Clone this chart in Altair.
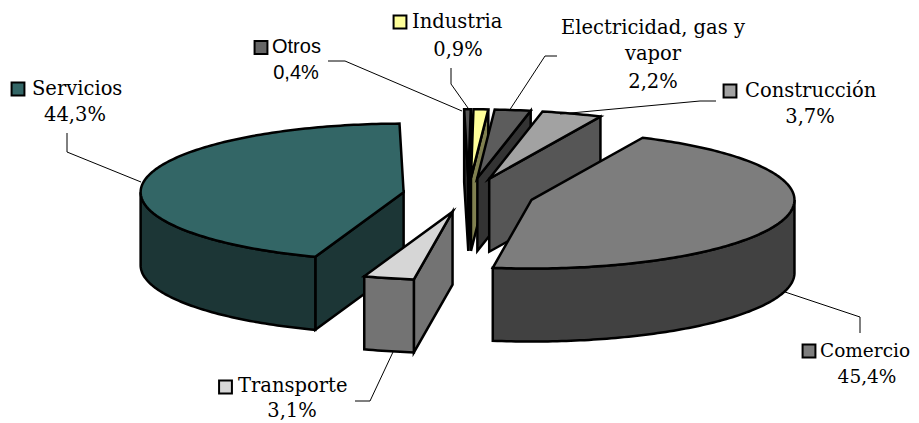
import math
import altair as alt
import pandas as pd

# --- chart values -------------------------------------------------------
categories = ["Construcción", "Comercio", "Transporte", "Servicios", "Otros", "Industria", "Electricidad, gas y vapor"]
shares = [3.7, 45.4, 3.1, 44.3, 0.4, 0.9, 2.2]
share_labels = ["3,7%", "45,4%", "3,1%", "44,3%", "0,4%", "0,9%", "2,2%"]

# --- styles -------------------------------------------------------------
top_colors = {"Construcción": "#a2a2a2", "Comercio": "#7d7d7d", "Transporte": "#d6d6d6", "Servicios": "#336666",
              "Otros": "#555555", "Industria": "#ffff99", "Electricidad, gas y vapor": "#5c5c5c"}
wall_colors = {"Construcción": "#565656", "Comercio": "#414141", "Transporte": "#737373", "Servicios": "#1c3636",
               "Otros": "#2a2a2a", "Industria": "#808050", "Electricidad, gas y vapor": "#333333"}
draw_order = ["Otros", "Industria", "Electricidad, gas y vapor", "Construcción", "Servicios", "Transporte", "Comercio"]

# --- projection of the pie on the page ----------------------------------
CX, CY, RX, RY, DEPTH, EXPLODE, ROT = 468.5, 195.0, 263.0, 68.6, 73.0, 0.25, 11.7
W, H = 903, 414

spans, a = {}, ROT
for c, s in zip(categories, shares):
    spans[c] = (a, a + s * 3.6)
    a += s * 3.6


def pt(center, deg):
    r = math.radians(deg)
    return (center[0] + RX * math.sin(r), center[1] - RY * math.cos(r))


def arc(center, a0, a1):
    n = max(2, int(abs(a1 - a0)) + 1)
    return [pt(center, a0 + (a1 - a0) * i / (n - 1)) for i in range(n)]


def down(points):
    return [(x, y + DEPTH) for x, y in points]


def faces(cat):
    a0, a1 = spans[cat]
    mid = math.radians((a0 + a1) / 2)
    c = (CX + EXPLODE * RX * math.sin(mid), CY - EXPLODE * RY * math.cos(mid))
    out = []
    if math.cos(math.radians(a0 - 90)) < 0:
        p = [c, pt(c, a0)]
        out.append((p + down(p)[::-1], wall_colors[cat]))
    if math.cos(math.radians(a1 + 90)) < 0:
        p = [c, pt(c, a1)]
        out.append((p + down(p)[::-1], wall_colors[cat]))
    lo, hi = max(a0, 90), min(a1, 270)
    if lo < hi:
        p = arc(c, lo, hi)
        out.append((p + down(p)[::-1], wall_colors[cat]))
    out.append(([c] + arc(c, a0, a1), top_colors[cat]))
    return out


X = alt.X("x:Q", scale=alt.Scale(domain=[8, 8 + W]), axis=None)
Y = alt.Y("y:Q", scale=alt.Scale(domain=[8 + H, 8]), axis=None)

layers = []
for cat in draw_order:
    for poly, col in faces(cat):
        closed = poly + poly[:2]
        df = pd.DataFrame({"x": [p[0] for p in closed], "y": [p[1] for p in closed], "i": range(len(closed))})
        layers.append(alt.Chart(df).mark_line(fill=col, stroke="black", strokeWidth=2.5,
                                              strokeJoin="miter", strokeMiterLimit=8, clip=False)
                      .encode(x=X, y=Y, order="i:Q"))

# --- leader lines -------------------------------------------------------
leaders = [
    [(67, 133), (67, 152), (141, 182)],
    [(328, 61), (345, 61), (462, 111)],
    [(451, 68), (451, 84), (468, 108)],
    [(557, 56), (545, 56), (509, 111)],
    [(716, 101), (700, 101), (560, 114)],
    [(860, 333), (860, 317), (785, 292)],
    [(355, 401), (370, 401), (393, 352)],
]
for ln in leaders:
    df = pd.DataFrame({"x": [p[0] for p in ln], "y": [p[1] for p in ln], "i": range(len(ln))})
    layers.append(alt.Chart(df).mark_line(stroke="black", strokeWidth=1).encode(x=X, y=Y, order="i:Q"))

# --- labels: category, swatch, value, positions --------------------------
SERIF, SANS = "DejaVu Serif", "Liberation Sans"
TS = 19.5
layout = {
    "Servicios": dict(key=(18, 89), name=(32, 89), val=(75, 115), font=SERIF, size=TS),
    "Otros": dict(key=(261, 47.5), name=(272, 47), val=(296, 73), font=SANS, size=20),
    "Industria": dict(key=(400, 22), name=(412, 22), val=(458, 50), font=SERIF, size=TS),
    "Construcción": dict(key=(730, 91), name=(745, 91), val=(810, 117), font=SERIF, size=TS),
    "Comercio": dict(key=(809, 351), name=(820, 351), val=(867, 377), font=SERIF, size=18.5),
    "Transporte": dict(key=(225.5, 387), name=(238, 386), val=(292, 410.5), font=SERIF, size=TS),
}
swatch = {"Servicios": "#336666", "Otros": "#666666", "Industria": "#ffff99", "Construcción": "#a2a2a2",
          "Comercio": "#7d7d7d", "Transporte": "#d6d6d6"}


def text(x, y, s, font, size, align):
    df = pd.DataFrame({"x": [x], "y": [y], "t": [s]})
    return alt.Chart(df).mark_text(font=font, fontSize=size, align=align, baseline="middle", color="black").encode(
        x=X, y=Y, text="t:N")


for c, lb in zip(categories, share_labels):
    if c in layout:
        L = layout[c]
        df = pd.DataFrame({"x": [L["key"][0]], "y": [L["key"][1]]})
        layers.append(alt.Chart(df).mark_square(size=165, fill=swatch[c], stroke="black", strokeWidth=2, opacity=1)
                      .encode(x=X, y=Y))
        layers.append(text(L["name"][0], L["name"][1], c, L["font"], L["size"], "left"))
        layers.append(text(L["val"][0], L["val"][1], lb, L["font"], L["size"], "center"))
    else:
        layers.append(text(653, 28, "Electricidad, gas y", SERIF, TS, "center"))
        layers.append(text(653, 54, "vapor", SERIF, TS, "center"))
        layers.append(text(653, 82, lb, SERIF, TS, "center"))

chart = alt.layer(*layers).properties(width=W, height=H, padding=0, autosize=alt.AutoSizeParams(type="none")).configure_view(stroke=None)
chart.save("out.html", embed_options={"renderer": "svg", "actions": False})
